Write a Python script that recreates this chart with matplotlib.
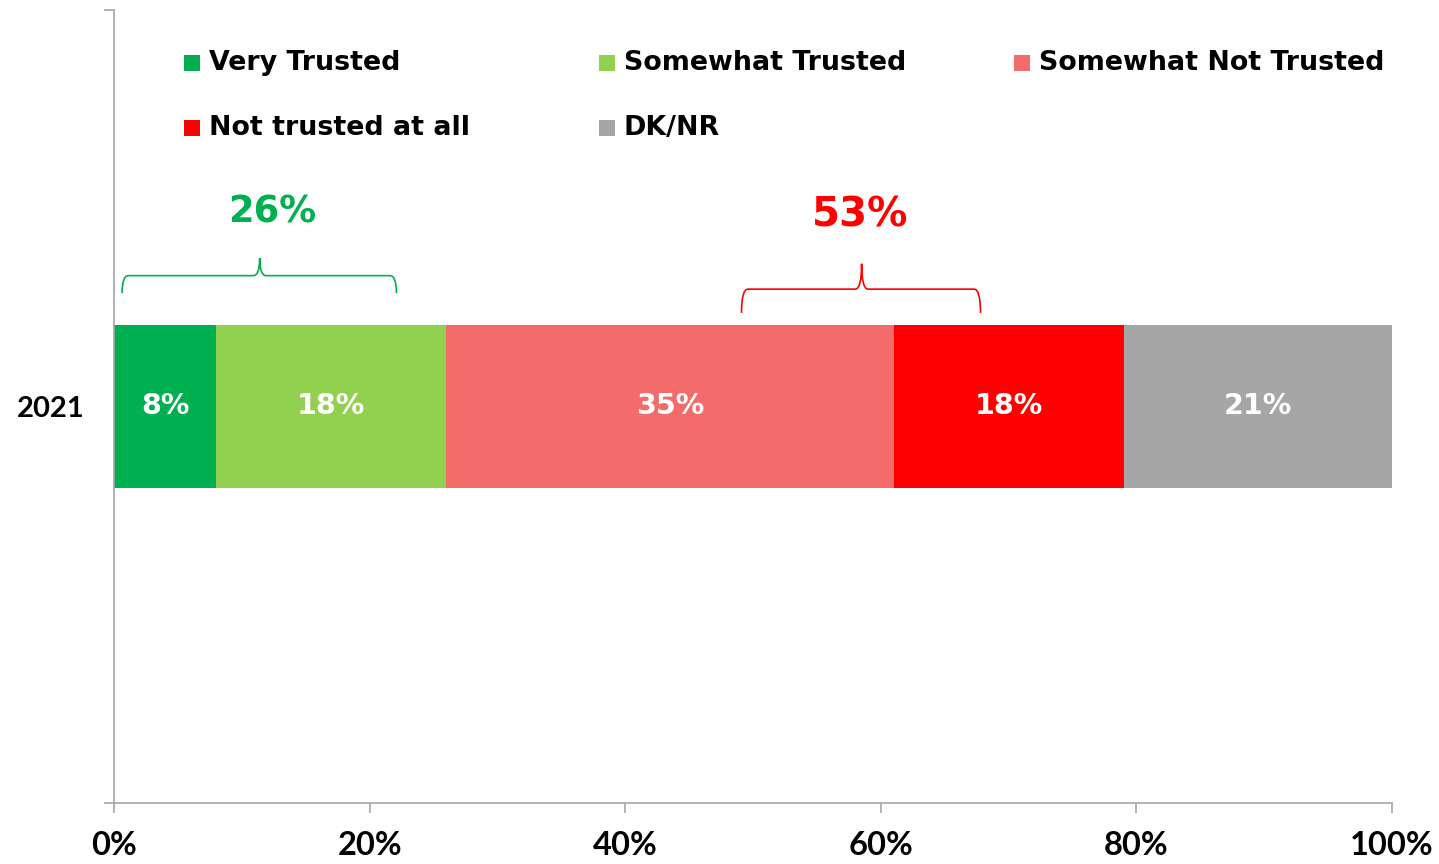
import matplotlib
matplotlib.use("Agg")
import matplotlib.pyplot as plt
from matplotlib.path import Path
from matplotlib.patches import PathPatch, Rectangle

# Data
year = "2021"
categories = ["Very Trusted", "Somewhat Trusted", "Somewhat Not Trusted",
              "Not trusted at all", "DK/NR"]
values = [8, 18, 35, 18, 21]
colors = ["#00B050", "#92D050", "#F46B6B", "#FF0000", "#A6A6A6"]
trusted_total = 26
not_trusted_total = 53
xticks = [0, 20, 40, 60, 80, 100]

label_font = "DejaVu Sans"
axis_font = "Lato"
gray = "#A6A6A6"

fig = plt.figure(figsize=(14.39, 8.64), dpi=100)
ax = fig.add_axes([114 / 1439, 61 / 864, 1278 / 1439, 793 / 864])

left = 0
bars = []
for val, col, cat in zip(values, colors, categories):
    b = ax.barh(0.5, val, left=left, height=0.2056, color=col, label=cat)
    bars.append(b)
    left += val

for b, val in zip(bars, values):
    ax.bar_label(b, labels=[f"{val}%"], label_type="center", color="white",
                 fontsize=20.5, fontweight="bold", family=label_font)

ax.set_xlim(0, 100)
ax.set_ylim(0, 1)
ax.set_xticks(xticks)
ax.set_xticklabels([f"{t}%" for t in xticks], fontsize=23.5, fontweight="bold",
                   family=axis_font)
ax.set_yticks([0, 1])
ax.set_yticklabels(["", ""])
ax.set_yticks([0.5], minor=True)
ax.set_yticklabels([year], minor=True, fontsize=21, fontweight="bold",
                   family=axis_font)
ax.tick_params(axis="y", which="minor", length=0, pad=21.5)
ax.tick_params(axis="both", which="major", direction="out", length=7,
               width=1.2, color=gray)
ax.tick_params(axis="x", pad=13)

for s in ["top", "right"]:
    ax.spines[s].set_visible(False)
for s in ["left", "bottom"]:
    ax.spines[s].set_color(gray)
    ax.spines[s].set_linewidth(1.2)


def brace(x0, x1, xc, yb, yh, yt, color):
    r = 0.5
    verts = [(x0, yb), (x0, yh), (x0 + r, yh),
             (xc - r, yh), (xc, yh), (xc, yt),
             (xc, yh), (xc + r, yh),
             (x1 - r, yh), (x1, yh), (x1, yb)]
    codes = [Path.MOVETO, Path.CURVE3, Path.CURVE3,
             Path.LINETO, Path.CURVE3, Path.CURVE3,
             Path.CURVE3, Path.CURVE3,
             Path.LINETO, Path.CURVE3, Path.CURVE3]
    ax.add_patch(PathPatch(Path(verts, codes), fill=False, edgecolor=color,
                           linewidth=1.2, clip_on=False))


brace(0.63, 22.1, 11.4, 0.643, 0.665, 0.687, "#00B050")
brace(49.1, 67.8, 58.5, 0.618, 0.648, 0.680, "#FF0000")

ax.text(12.4, 0.745, f"{trusted_total}%", color="#00B050", fontsize=26.6,
        fontweight="bold", family=label_font, ha="center", va="center")
ax.text(58.4, 0.741, f"{not_trusted_total}%", color="#FF0000", fontsize=29,
        fontweight="bold", family=label_font, ha="center", va="center")

# Legend laid out in fixed-width columns like the original
legend_pos = [(184, 63), (599, 63), (1014, 63), (184, 128), (599, 128)]
for (px, py), cat, col in zip(legend_pos, categories, colors):
    fig.patches.append(Rectangle(((px) / 1439, 1 - (py + 8) / 864), 16 / 1439,
                                 16 / 864, transform=fig.transFigure,
                                 facecolor=col, edgecolor="none"))
    fig.text((px + 25) / 1439, 1 - py / 864, cat, fontsize=19.4,
             fontweight="bold", family=label_font, va="center", ha="left")

fig.savefig("out.png", dpi=100)
